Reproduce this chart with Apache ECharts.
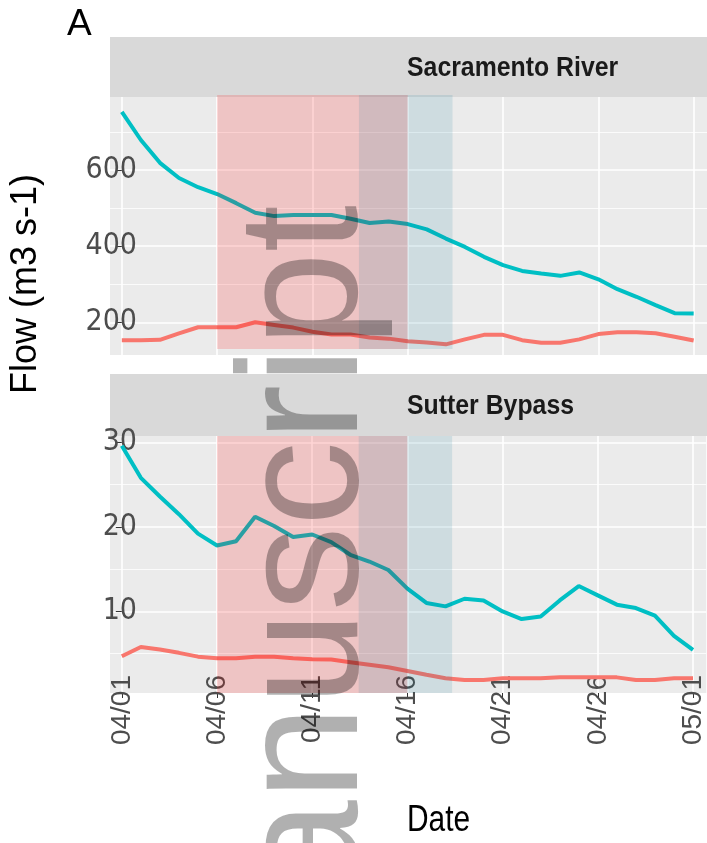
<!DOCTYPE html>
<html>
<head>
<meta charset="utf-8">
<script src="https://cdn.jsdelivr.net/npm/echarts@6/dist/echarts.min.js"></script>
<style>
html, body { margin: 0; padding: 0; background: #fff; }
#flow_chart { width: 707px; height: 843px; }
</style>
</head>
<body>
<div id="flow_chart"></div>
<script>
// daily dates, x = index in this list
var dates = ['04/01', '04/02', '04/03', '04/04', '04/05', '04/06', '04/07', '04/08', '04/09', '04/10',
    '04/11', '04/12', '04/13', '04/14', '04/15', '04/16', '04/17', '04/18', '04/19', '04/20',
    '04/21', '04/22', '04/23', '04/24', '04/25', '04/26', '04/27', '04/28', '04/29', '04/30', '05/01'];
var tickDays = [0, 5, 10, 15, 20, 25, 30];

var sacramentoTeal = [753, 679, 619, 579, 555, 537, 513, 488, 479, 482, 482, 482, 472, 461, 465, 458,
    444, 420, 398, 372, 350, 335, 328, 322, 331, 313, 287, 267, 245, 224, 223];
var sacramentoRed = [153, 153, 154, 171, 187, 187, 187, 200, 193, 186, 175, 168, 168, 160, 157, 150,
    147, 142, 155, 167, 167, 153, 146, 146, 155, 169, 174, 174, 171, 162, 152];
var sutterTeal = [29.6, 25.8, 23.6, 21.5, 19.2, 17.8, 18.3, 21.2, 20.1, 18.8, 19.1, 18.2, 16.7, 15.9, 14.9, 12.7,
    11.0, 10.6, 11.5, 11.3, 10.0, 9.1, 9.4, 11.3, 13.0, 11.9, 10.8, 10.4, 9.5, 7.1, 5.45];
var sutterRed = [4.7, 5.8, 5.5, 5.1, 4.65, 4.45, 4.45, 4.65, 4.65, 4.45, 4.35, 4.3, 4.0, 3.7, 3.4, 2.95,
    2.5, 2.1, 1.9, 1.9, 2.1, 2.1, 2.1, 2.2, 2.2, 2.2, 2.2, 1.9, 1.9, 2.1, 2.1];

// shaded periods, in days from 04/01
var redPeriod = [5, 15];
var bluePeriod = [12.44, 17.35];

// y scales of the two facets
var sacramentoRange = [114, 792];
var sacramentoMajor = [200, 400, 600];
var sacramentoMinor = [300, 500, 700];
var sutterRange = [0.35, 30.75];
var sutterMajor = [10, 20, 30];
var sutterMinor = [5, 15, 25];

var TEAL = '#00BFC4';
var RED = '#F8766D';
var narrowFont = "'Liberation Sans Narrow', 'DejaVu Sans Condensed', 'Liberation Sans', sans-serif";

function toPoints(values) {
    return values.map(function (v, i) { return [i, v]; });
}

function xAxisFor(grid, withLabels) {
    return {
        type: 'value', gridIndex: grid, min: -0.62, max: 30.7,
        axisLine: { show: false },
        axisTick: { show: withLabels, customValues: tickDays, length: 5, lineStyle: { color: '#333', width: 1 } },
        axisLabel: {
            show: withLabels, customValues: tickDays, rotate: 90, margin: -18,
            fontSize: 28, color: '#4D4D4D', fontFamily: "'Liberation Sans', Arial, sans-serif",
            formatter: function (v) { return dates[Math.round(v)]; }
        },
        splitLine: { show: true, lineStyle: { color: '#fff', width: 1.6 } }
    };
}

function majorY(grid, range, ticks) {
    return {
        type: 'value', gridIndex: grid, min: range[0], max: range[1], position: 'left',
        axisLine: { show: false },
        axisTick: { show: true, customValues: ticks, length: 6, lineStyle: { color: '#333', width: 1 } },
        axisLabel: { customValues: ticks, margin: -27, fontSize: 30, color: '#4D4D4D', fontFamily: narrowFont,
            padding: [8, 0, 0, 0] },
        splitLine: { show: true, lineStyle: { color: '#fff', width: 1.6 } }
    };
}

function minorY(grid, range, ticks) {
    return {
        type: 'value', gridIndex: grid, min: range[0], max: range[1], position: 'left',
        axisLine: { show: false },
        axisTick: { show: false, customValues: ticks },
        axisLabel: { show: false },
        splitLine: { show: true, lineStyle: { color: '#fff', width: 0.8 } }
    };
}

function lineSeries(xi, yi, values, color) {
    return {
        type: 'line', xAxisIndex: xi, yAxisIndex: yi, data: toPoints(values),
        showSymbol: false, z: 2,
        lineStyle: { color: color, width: 4 }, itemStyle: { color: color }
    };
}

function shadeSeries(xi, yi, period, yLow, yHigh, fill) {
    return {
        type: 'custom', xAxisIndex: xi, yAxisIndex: yi, z: 5, silent: true,
        data: [[period[0], period[1], yLow, yHigh]],
        renderItem: function (params, api) {
            var lo = api.coord([api.value(0), api.value(2)]);
            var hi = api.coord([api.value(1), api.value(3)]);
            return {
                type: 'rect',
                shape: { x: lo[0], y: hi[1], width: hi[0] - lo[0], height: lo[1] - hi[1] },
                style: { fill: fill }
            };
        }
    };
}

var redFill = 'rgba(255, 0, 0, 0.166)';
var blueFill = 'rgba(0, 113, 146, 0.123)';

var flowOption = {
    animation: false,
    backgroundColor: '#fff',
    grid: [
        { left: 110, top: 97, width: 597, height: 258, show: true, backgroundColor: '#EBEBEB', borderWidth: 0 },
        { left: 110, top: 436, width: 597, height: 257, show: true, backgroundColor: '#EBEBEB', borderWidth: 0 }
    ],
    xAxis: [xAxisFor(0, false), xAxisFor(1, true)],
    yAxis: [
        majorY(0, sacramentoRange, sacramentoMajor),
        minorY(0, sacramentoRange, sacramentoMinor),
        majorY(1, sutterRange, sutterMajor),
        minorY(1, sutterRange, sutterMinor)
    ],
    series: [
        lineSeries(0, 0, sacramentoTeal, TEAL),
        lineSeries(0, 0, sacramentoRed, RED),
        lineSeries(1, 2, sutterTeal, TEAL),
        lineSeries(1, 2, sutterRed, RED),
        shadeSeries(0, 0, redPeriod, 130, 797, redFill),
        shadeSeries(0, 0, bluePeriod, 130, 797, blueFill),
        shadeSeries(1, 2, redPeriod, sutterRange[0], sutterRange[1], redFill),
        shadeSeries(1, 2, bluePeriod, sutterRange[0], sutterRange[1], blueFill)
    ],
    graphic: [
        // facet strips
        { type: 'rect', shape: { x: 110, y: 37, width: 597, height: 60 }, style: { fill: '#D9D9D9' }, z: -1 },
        { type: 'rect', shape: { x: 110, y: 374, width: 597, height: 62 }, style: { fill: '#D9D9D9' }, z: -1 },
        {
            type: 'text', x: 407, y: 69, scaleX: 0.92, z: 2,
            style: { text: 'Sacramento River', fontSize: 27, fontWeight: 'bold', fill: '#1A1A1A',
                fontFamily: "'Liberation Sans', Arial, sans-serif", textAlign: 'left', textVerticalAlign: 'middle' }
        },
        {
            type: 'text', x: 407, y: 407, scaleX: 0.92, z: 2,
            style: { text: 'Sutter Bypass', fontSize: 27, fontWeight: 'bold', fill: '#1A1A1A',
                fontFamily: "'Liberation Sans', Arial, sans-serif", textAlign: 'left', textVerticalAlign: 'middle' }
        },
        // titles
        {
            type: 'text', x: 67, y: 25, z: 2,
            style: { text: 'A', fontSize: 37, fill: '#000', fontFamily: "'Liberation Sans', Arial, sans-serif",
                textAlign: 'left', textVerticalAlign: 'middle' }
        },
        {
            type: 'text', x: 26, y: 284, rotation: Math.PI / 2, z: 2,
            style: { text: 'Flow (m3 s-1)', fontSize: 36, fill: '#000', fontFamily: "'Liberation Sans', Arial, sans-serif",
                textAlign: 'center', textVerticalAlign: 'middle' }
        },
        {
            type: 'text', x: 407, y: 821, scaleX: 0.83, z: 2,
            style: { text: 'Date', fontSize: 36, fill: '#000', fontFamily: "'Liberation Sans', Arial, sans-serif",
                textAlign: 'left', textVerticalAlign: 'middle' }
        },
        // watermark
        {
            type: 'text', x: 310, y: 205, rotation: Math.PI / 2, z: 100,
            style: { text: 'Manuscript', fontSize: 170, fill: 'rgba(0, 0, 0, 0.31)',
                fontFamily: "'Liberation Sans', Arial, sans-serif", textAlign: 'right', textVerticalAlign: 'middle' }
        }
    ]
};

var flowChart = echarts.init(document.getElementById('flow_chart'));
flowChart.setOption(flowOption);
</script>
</body>
</html>
